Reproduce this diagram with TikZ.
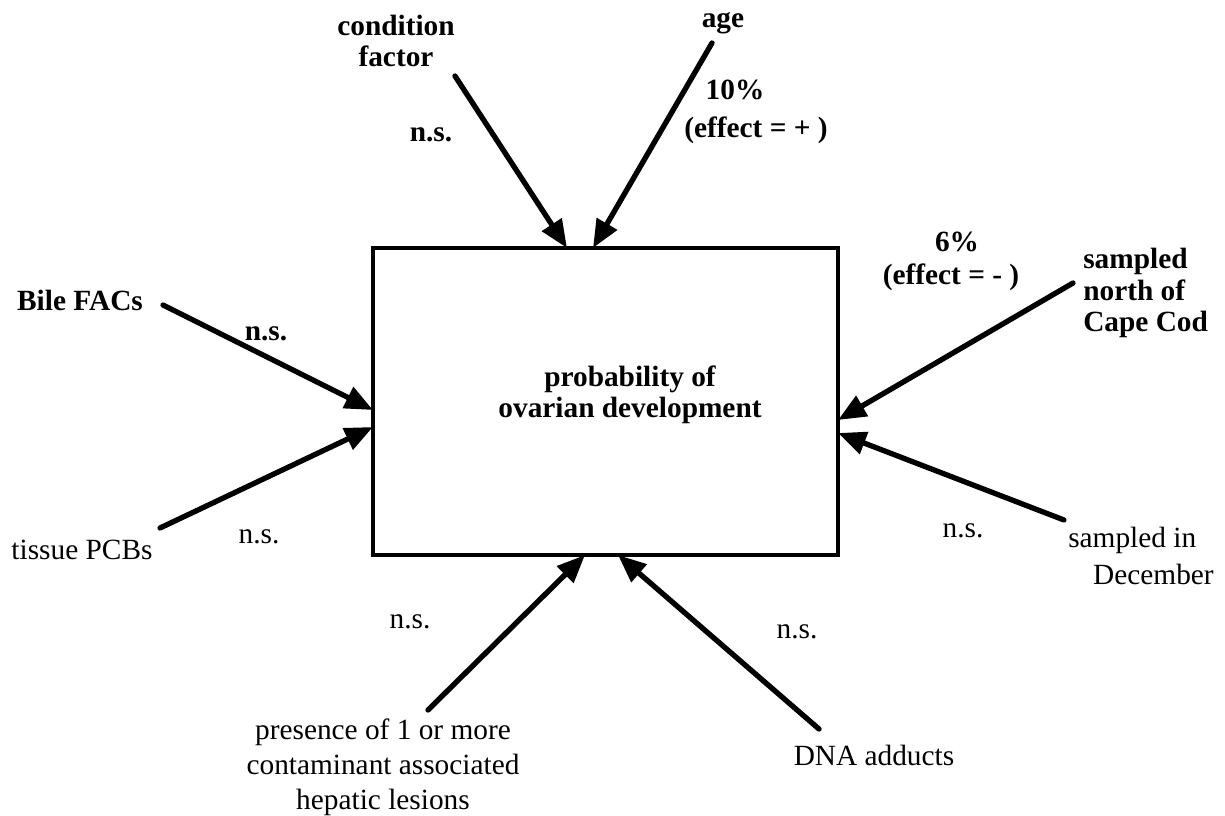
\documentclass[tikz,border=0pt]{standalone}
\usepackage{fontspec}
\setmainfont{Liberation Serif}
\usetikzlibrary{arrows.meta,calc}
\begin{document}
\begin{tikzpicture}[x=0.75pt,y=-0.75pt,
  lbl/.style={inner sep=0pt, font=\fontsize{22}{23.5}\selectfont, align=center},
  blbl/.style={lbl, font=\fontsize{22}{23.5}\selectfont\bfseries},
  conn/.style={line width=4pt, line cap=round, -{Triangle[length=21pt,width=17pt]}},
  boxstyle/.style={draw, line width=2.6pt, inner sep=0pt, outer sep=0pt,
    minimum width=348.75pt, minimum height=230.25pt}]
\useasboundingbox (0,0) rectangle (1225,815);

% central box
\node[boxstyle] (box) at (605.5,401.5) {};
\node[blbl] (boxtext) at (630,395) {probability of\\ovarian development};

% labels
\node[blbl] (cond) at (396,41) {condition\\factor};
\node[blbl] (age) at (723,23) {age};
\node[blbl] (p10) at (735,90) {10\%};
\node[blbl] (effp) at (756,130) {(effect = + )};
\node[blbl] (ns1) at (431,135) {n.s.};
\node[blbl] (bile) at (80,300) {Bile FACs};
\node[blbl] (ns2) at (266,334) {n.s.};
\node[lbl] (tissue) at (82,550) {tissue PCBs};
\node[lbl] (ns3) at (259,537) {n.s.};
\node[blbl] (p6) at (957,242) {6\%};
\node[blbl] (effm) at (951,277) {(effect = - )};
\node[blbl, align=left, anchor=west] (north) at (1083,293) {sampled\\north of\\Cape Cod};
\node[lbl] (ns4) at (963,531) {n.s.};
\node[lbl, align=left, anchor=west, font=\fontsize{22}{27.5}\selectfont] (dec) at (1068,556) {sampled in\\\hspace*{0.85em}December};
\node[lbl] (ns5) at (797,632) {n.s.};
\node[lbl] (dna) at (874,755) {DNA adducts};
\node[lbl] (ns6) at (410,622) {n.s.};
\node[lbl, font=\fontsize{22}{26.25}\selectfont] (pres) at (383,767) {presence of 1 or more\\contaminant associated\\hepatic lesions};

% connector start points
\coordinate (cfS) at (455,76);
\coordinate (ageS) at (712,43);
\coordinate (bileS) at (163,305);
\coordinate (tisS) at (160,528);
\coordinate (northS) at (1073,283);
\coordinate (decS) at (1064,520);
\coordinate (presS) at (428,710);
\coordinate (dnaS) at (819,729);

% connectors
\draw[conn] (cfS) -- ($(box.north west)+(194,0)$);
\draw[conn] (ageS) -- ($(box.north west)+(220,0)$);
\draw[conn] (bileS) -- ($(box.north west)+(0,162)$);
\draw[conn] (tisS) -- ($(box.north west)+(0,179)$);
\draw[conn] (northS) -- ($(box.north east)+(0,172)$);
\draw[conn] (decS) -- ($(box.north east)+(0,185)$);
\draw[conn] (presS) -- ($(box.south west)+(212,0)$);
\draw[conn] (dnaS) -- ($(box.south west)+(245,0)$);
\end{tikzpicture}
\end{document}
